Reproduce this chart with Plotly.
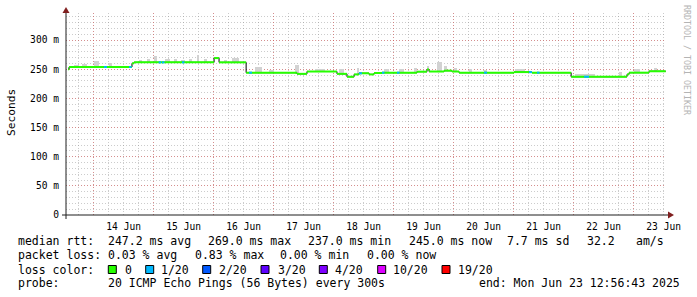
import bisect
import pandas as pd
import plotly.graph_objects as go

# ---------------- data ----------------
T_START = "2025-06-13 12:56:43"
T_END = "2025-06-23 12:56:43"

day_ticks = ["2025-06-%02d" % d for d in range(14, 24)]
day_labels = ["%d Jun" % d for d in range(14, 24)]
y_tick_ms = [0, 50, 100, 150, 200, 250, 300]
y_tick_text = ["0", "50 m", "100 m", "150 m", "200 m", "250 m", "300 m"]

# median rtt step changes (time, ms)
median_times = ["2025-06-13 13:45", "2025-06-13 14:10", "2025-06-14 15:20", "2025-06-14 16:10",
                "2025-06-16 00:10", "2025-06-16 02:10", "2025-06-16 13:00", "2025-06-17 09:20",
                "2025-06-17 13:20", "2025-06-18 01:20", "2025-06-18 05:20", "2025-06-18 08:10",
                "2025-06-18 10:10", "2025-06-18 14:10", "2025-06-18 16:10", "2025-06-18 19:20",
                "2025-06-19 09:20", "2025-06-19 13:20", "2025-06-19 14:10", "2025-06-19 20:10",
                "2025-06-19 23:20", "2025-06-20 02:10", "2025-06-21 00:10", "2025-06-21 07:20",
                "2025-06-21 23:00", "2025-06-22 21:20", "2025-06-22 22:10", "2025-06-23 06:10",
                "2025-06-23 12:50"]
median_ms = [250.0, 253.7, 260.0, 261.7, 269.0, 261.7, 244.0, 242.0, 246.0, 242.0,
             237.0, 241.0, 243.0, 241.0, 243.4, 244.0, 245.7, 249.5, 246.0, 247.4,
             246.0, 244.0, 245.0, 244.0, 237.0, 241.0, 244.0, 246.4, 246.4]

# intervals with 1/20 packet loss
loss_start = ["2025-06-14 04:10", "2025-06-14 14:10", "2025-06-15 02:00", "2025-06-15 03:20",
              "2025-06-15 11:20", "2025-06-16 14:10", "2025-06-18 10:10", "2025-06-18 19:20",
              "2025-06-19 01:20", "2025-06-20 12:10", "2025-06-21 06:10", "2025-06-21 09:20",
              "2025-06-22 04:10"]
loss_end = ["2025-06-14 05:20", "2025-06-14 15:10", "2025-06-15 03:00", "2025-06-15 04:20",
            "2025-06-15 12:20", "2025-06-16 15:20", "2025-06-18 11:20", "2025-06-18 20:20",
            "2025-06-19 02:20", "2025-06-20 13:20", "2025-06-21 07:20", "2025-06-21 10:20",
            "2025-06-22 06:10"]

# smoke (ping spread) upper bounds
smoke_start = ["2025-06-13 16:00", "2025-06-13 19:20", "2025-06-14 00:10", "2025-06-14 06:10",
               "2025-06-14 18:00", "2025-06-14 21:20",
               "2025-06-15 00:10", "2025-06-15 04:30", "2025-06-15 08:10", "2025-06-15 11:00",
               "2025-06-15 14:10", "2025-06-15 17:20", "2025-06-15 20:10", "2025-06-16 04:00",
               "2025-06-16 07:20", "2025-06-16 16:30", "2025-06-16 22:00",
               "2025-06-17 08:30", "2025-06-17 16:30", "2025-06-18 02:10", "2025-06-18 09:20",
               "2025-06-18 20:10", "2025-06-19 02:10", "2025-06-19 08:10", "2025-06-19 13:20",
               "2025-06-19 17:20", "2025-06-19 20:10", "2025-06-20 00:10", "2025-06-20 06:10",
               "2025-06-20 12:10", "2025-06-21 00:30", "2025-06-22 00:30", "2025-06-22 18:10",
               "2025-06-23 00:10", "2025-06-23 08:10"]
smoke_end = ["2025-06-13 18:00", "2025-06-13 21:20", "2025-06-14 02:10", "2025-06-14 07:20",
             "2025-06-14 19:20", "2025-06-14 22:30",
             "2025-06-15 01:20", "2025-06-15 06:30", "2025-06-15 09:20", "2025-06-15 12:30",
             "2025-06-15 15:20", "2025-06-15 18:10", "2025-06-15 21:20", "2025-06-16 05:30",
             "2025-06-16 10:10", "2025-06-16 19:20", "2025-06-17 00:00",
             "2025-06-17 10:10", "2025-06-17 20:30", "2025-06-18 04:10", "2025-06-18 10:10",
             "2025-06-18 22:10", "2025-06-19 04:10", "2025-06-19 09:20", "2025-06-19 14:10",
             "2025-06-19 19:20", "2025-06-19 21:20", "2025-06-20 01:20", "2025-06-20 07:20",
             "2025-06-20 13:20", "2025-06-21 04:30", "2025-06-22 08:30", "2025-06-22 19:20",
             "2025-06-23 02:30", "2025-06-23 09:20"]
smoke_top_ms = [258, 259, 264, 260, 265, 267,
                272.6, 267, 267, 266, 267, 274, 267, 266, 268.6, 253.7, 249,
                257, 250, 250, 252.5, 250, 250, 252, 255, 261.7, 255, 252, 250, 249, 250,
                241, 245.7, 250, 252]

loss_colors = ["#26ff00", "#00b8ff", "#0059ff", "#5e00ff", "#7e00ff", "#dd00ff", "#ff0000"]
loss_labels = ["0", "1/20", "2/20", "3/20", "4/20", "10/20", "19/20"]

# ---------------- helpers ----------------
W, H = 697, 297
L, R, T, B = 66, 666, 13, 215


def px(x):
    return (x - L) / (R - L)


def py(y):
    return (B - y) / (B - T)


mt = pd.to_datetime(median_times)


def median_at(t):
    t = pd.Timestamp(t)
    i = bisect.bisect_right(list(mt), t) - 1
    return median_ms[max(i, 0)]


fig = go.Figure()

# smoke
sx, sw, sb, sy = [], [], [], []
for s, e, top in zip(smoke_start, smoke_end, smoke_top_ms):
    s, e = pd.Timestamp(s), pd.Timestamp(e)
    mid = s + (e - s) / 2
    base = median_at(mid)
    sx.append(mid)
    sw.append((e - s).total_seconds() * 1000)
    sb.append(base / 1000)
    sy.append(max(top - base, 0) / 1000)
fig.add_trace(go.Bar(x=sx, y=sy, base=sb, width=sw, marker=dict(color="#d2d2d2", line=dict(width=0)),
                     hoverinfo="skip", showlegend=False))

# black step connector
fig.add_trace(go.Scatter(x=mt, y=[v / 1000 for v in median_ms], mode="lines",
                         line=dict(color="#000000", width=1, shape="hv"), hoverinfo="skip", showlegend=False))

# green median segments
gx, gy = [], []
for i in range(len(mt) - 1):
    gx += [mt[i], mt[i + 1], None]
    gy += [median_ms[i] / 1000, median_ms[i] / 1000, None]
fig.add_trace(go.Scatter(x=gx, y=gy, mode="lines", line=dict(color=loss_colors[0], width=2),
                         hoverinfo="skip", showlegend=False))

# loss segments
bx, by = [], []
for s, e in zip(loss_start, loss_end):
    v = median_at(s) / 1000
    bx += [pd.Timestamp(s), pd.Timestamp(e), None]
    by += [v, v, None]
fig.add_trace(go.Scatter(x=bx, y=by, mode="lines", line=dict(color=loss_colors[1], width=2),
                         hoverinfo="skip", showlegend=False))

# dummy trace for label axis
fig.add_trace(go.Scatter(x=[T_START], y=[None], xaxis="x2", mode="lines", showlegend=False, hoverinfo="skip"))

MONO = "DejaVu Sans Mono"
GRID_MAJ = "rgba(222,79,79,0.5)"
GRID_MIN = "rgba(143,143,143,0.45)"
DASH = "1px,2px"

fig.update_layout(
    width=W, height=H,
    margin=dict(l=L, r=W - R, t=T, b=H - B, pad=0),
    paper_bgcolor="#ffffff", plot_bgcolor="#ffffff",
    showlegend=False, bargap=0,
    font=dict(family=MONO, size=9.6, color="#000000"),
    xaxis=dict(type="date", range=[T_START, T_END], tickmode="array", tickvals=day_ticks,
               ticktext=[""] * len(day_ticks), showticklabels=False, ticks="",
               showgrid=True, gridcolor=GRID_MAJ, griddash=DASH, gridwidth=1,
               zeroline=False, showline=False,
               minor=dict(dtick=6 * 3600 * 1000, tick0="2025-06-14", showgrid=True,
                          gridcolor=GRID_MIN, griddash=DASH, gridwidth=1, ticks="")),
    xaxis2=dict(type="date", range=[T_START, T_END], overlaying="x", anchor="y", side="bottom",
                tickmode="array", tickvals=[d + " 12:00" for d in day_ticks], ticktext=day_labels,
                showgrid=False, zeroline=False, showline=False, ticks="", ticklabelstandoff=4,
                tickfont=dict(family=MONO, size=9.6, color="#000000")),
    yaxis=dict(range=[0, (B - T) / 0.5833 / 1000], tickmode="array",
               tickvals=[v / 1000 for v in y_tick_ms], ticktext=y_tick_text, ticks="",
               ticklabelstandoff=6, tickfont=dict(family=MONO, size=9.6, color="#000000"),
               showgrid=True, gridcolor=GRID_MAJ, griddash=DASH, gridwidth=1,
               zeroline=False, showline=False,
               minor=dict(dtick=0.01, tick0=0, showgrid=True, gridcolor=GRID_MIN,
                          griddash=DASH, gridwidth=1, ticks="")),
)

shapes = []
AX = "#1f1f1f"
ARROW = "#801f1f"
# axes lines
shapes.append(dict(type="line", xref="paper", yref="paper", x0=px(62), x1=px(668), y0=py(215), y1=py(215),
                   line=dict(color=AX, width=1)))
shapes.append(dict(type="line", xref="paper", yref="paper", x0=px(66), x1=px(66), y0=py(219), y1=py(10),
                   line=dict(color=AX, width=1)))
# arrows
shapes.append(dict(type="path", xref="paper", yref="paper",
                   path="M %f %f L %f %f L %f %f Z" % (px(668), py(211.5), px(674), py(215), px(668), py(218.5)),
                   fillcolor=ARROW, line=dict(color=ARROW, width=0)))
shapes.append(dict(type="path", xref="paper", yref="paper",
                   path="M %f %f L %f %f L %f %f Z" % (px(62.5), py(13), px(66), py(7), px(69.5), py(13)),
                   fillcolor=ARROW, line=dict(color=ARROW, width=0)))

ann = []


def txt(x, y, s, size=11.5, color="#000000", anchor="left", angle=0):
    ann.append(dict(xref="paper", yref="paper", x=px(x), y=py(y), text=s, showarrow=False,
                    xanchor=anchor, yanchor="middle", textangle=angle, borderpad=0,
                    font=dict(family=MONO, size=size, color=color)))


# legend lines
y1, y2, y3, y4 = 241, 255, 269.5, 283
for x, s in [(16.7, "median rtt:"), (107.3, "247.2 ms avg"), (207.3, "269.0 ms max"),
             (306.7, "237.0 ms min"), (407.7, "245.0 ms now"), (505.7, "7.7 ms sd"),
             (586, "32.2"), (635, "am/s")]:
    txt(x, y1, s)
for x, s in [(16.7, "packet loss:"), (107.3, "0.03 % avg"), (194, "0.83 % max"),
             (279.3, "0.00 % min"), (365.7, "0.00 % now")]:
    txt(x, y2, s)
txt(16.7, y3, "loss color:")
box_x = [108.3, 145.7, 202.7, 261, 319.3, 377.7, 442]
lab_x = [124, 160, 218.3, 276.7, 334.3, 391.7, 456.7]
for bxp, lx, c, lab in zip(box_x, lab_x, loss_colors, loss_labels):
    shapes.append(dict(type="rect", xref="paper", yref="paper", x0=px(bxp), x1=px(bxp + 8),
                       y0=py(273.5), y1=py(265.5), fillcolor=c, line=dict(color="#000000", width=1)))
    txt(lx, y3, lab)
txt(16.7, y4, "probe:")
txt(107.3, y4, "20 ICMP Echo Pings (56 Bytes) every 300s")
txt(478.3, y4, "end: Mon Jun 23 12:56:43 2025")

# axis title and watermark
txt(11, 113, "Seconds", size=11.2, anchor="center", angle=-90)
txt(687, 60, "RRDTOOL / TOBI OETIKER", size=8.3, color="#b4b4b4", anchor="center", angle=90)

fig.update_layout(shapes=shapes, annotations=ann)
fig.write_html("out.html")
